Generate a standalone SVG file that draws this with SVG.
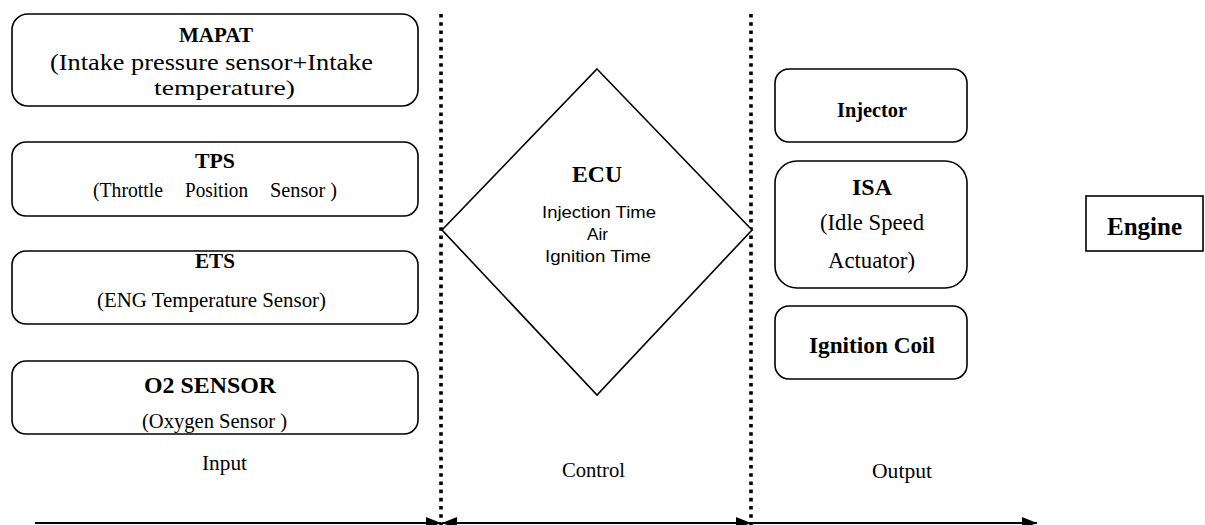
<svg xmlns="http://www.w3.org/2000/svg" width="1205" height="525" viewBox="0 0 1205 525">
<style>
.box{fill:#fff;stroke:#000;stroke-width:1.6}
.t{font-family:"Liberation Serif","Times New Roman",serif;fill:#000}
.b{font-weight:bold}
.s{font-family:"Liberation Sans",Arial,sans-serif;fill:#000}
.dot{stroke:#000;stroke-width:3.6;stroke-dasharray:3.6 4.6;fill:none}
.axis{stroke:#000;stroke-width:2;fill:none}
</style>
<defs>
<marker id="ah" markerUnits="userSpaceOnUse" markerWidth="16" markerHeight="14" refX="15" refY="6" orient="auto-start-reverse" viewBox="0 0 16 14">
<path d="M0,0 L15,6 L0,12 z" fill="#000"/>
</marker>
</defs>
<rect width="1205" height="525" fill="#fff"/>

<g id="connectors">
<line class="dot" x1="441" y1="14" x2="441" y2="525"/>
<line class="dot" x1="751" y1="14" x2="751" y2="525"/>
<line class="axis" x1="35" y1="523" x2="441" y2="523" marker-end="url(#ah)"/>
<line class="axis" x1="442" y1="523" x2="751" y2="523" marker-start="url(#ah)" marker-end="url(#ah)"/>
<line class="axis" x1="751" y1="523" x2="1037" y2="523" marker-end="url(#ah)"/>
</g>

<g id="mapat">
<rect class="box" x="12" y="14" width="406" height="92" rx="16"/>
<text class="t b" x="179" y="42" font-size="22" textLength="74" lengthAdjust="spacingAndGlyphs">MAPAT</text>
<text class="t" x="50" y="70" font-size="23" textLength="323" lengthAdjust="spacingAndGlyphs">(Intake pressure sensor+Intake</text>
<text class="t" x="154" y="95" font-size="22" textLength="141" lengthAdjust="spacingAndGlyphs">temperature)</text>
</g>

<g id="tps">
<rect class="box" x="12" y="142" width="406" height="74" rx="14"/>
<text class="t b" x="195" y="168" font-size="22" textLength="40" lengthAdjust="spacingAndGlyphs">TPS</text>
<text class="t" x="93" y="197" font-size="22" textLength="70" lengthAdjust="spacingAndGlyphs">(Throttle</text>
<text class="t" x="185" y="197" font-size="22" textLength="63" lengthAdjust="spacingAndGlyphs">Position</text>
<text class="t" x="270" y="197" font-size="22" textLength="67" lengthAdjust="spacingAndGlyphs">Sensor )</text>
</g>

<g id="ets">
<rect class="box" x="12" y="251" width="406" height="73" rx="14"/>
<text class="t b" x="195" y="268" font-size="22" textLength="40" lengthAdjust="spacingAndGlyphs">ETS</text>
<text class="t" x="97" y="307" font-size="22" textLength="229" lengthAdjust="spacingAndGlyphs">(ENG Temperature Sensor)</text>
</g>

<g id="o2">
<rect class="box" x="12" y="361" width="406" height="73" rx="14"/>
<text class="t b" x="144" y="393" font-size="23" textLength="132" lengthAdjust="spacingAndGlyphs">O2 SENSOR</text>
<text class="t" x="142" y="428" font-size="22" textLength="145" lengthAdjust="spacingAndGlyphs">(Oxygen Sensor )</text>
</g>

<g id="ecu">
<polygon class="box" points="597,69 752,230 597,395 442,230"/>
<text class="t b" x="572" y="182" font-size="24" textLength="50" lengthAdjust="spacingAndGlyphs">ECU</text>
<text class="s" x="542" y="218" font-size="17" textLength="114" lengthAdjust="spacingAndGlyphs">Injection Time</text>
<text class="s" x="587" y="240" font-size="17" textLength="21" lengthAdjust="spacingAndGlyphs">Air</text>
<text class="s" x="545" y="262" font-size="17" textLength="106" lengthAdjust="spacingAndGlyphs">Ignition Time</text>
</g>

<g id="injector">
<rect class="box" x="775" y="69" width="192" height="73" rx="14"/>
<text class="t b" x="837" y="117" font-size="21" textLength="70" lengthAdjust="spacingAndGlyphs">Injector</text>
</g>

<g id="isa">
<rect class="box" x="775" y="161" width="192" height="127" rx="22"/>
<text class="t b" x="852" y="195" font-size="23" textLength="40" lengthAdjust="spacingAndGlyphs">ISA</text>
<text class="t" x="820" y="230" font-size="23" textLength="104" lengthAdjust="spacingAndGlyphs">(Idle Speed</text>
<text class="t" x="828" y="268" font-size="23" textLength="87" lengthAdjust="spacingAndGlyphs">Actuator)</text>
</g>

<g id="ignition-coil">
<rect class="box" x="775" y="306" width="192" height="73" rx="14"/>
<text class="t b" x="809" y="353" font-size="23" textLength="126" lengthAdjust="spacingAndGlyphs">Ignition Coil</text>
</g>

<g id="engine">
<rect class="box" x="1086" y="196" width="117" height="55"/>
<text class="t b" x="1107" y="235" font-size="25" textLength="75" lengthAdjust="spacingAndGlyphs">Engine</text>
</g>

<g id="labels">
<text class="t" x="202" y="470" font-size="22" textLength="45" lengthAdjust="spacingAndGlyphs">Input</text>
<text class="t" x="562" y="477" font-size="22" textLength="63" lengthAdjust="spacingAndGlyphs">Control</text>
<text class="t" x="872" y="478" font-size="22" textLength="60" lengthAdjust="spacingAndGlyphs">Output</text>
</g>
</svg>
